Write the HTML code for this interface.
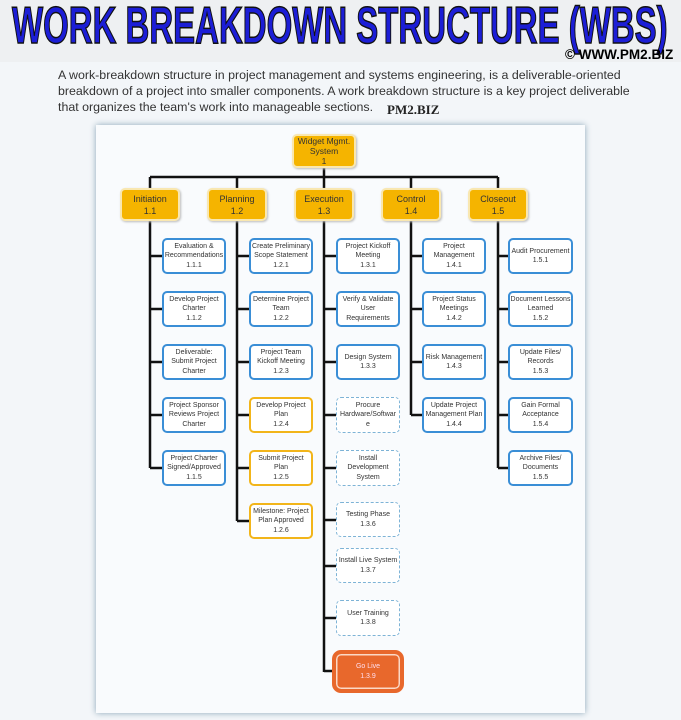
<!DOCTYPE html>
<html><head><meta charset="utf-8"><style>
*{margin:0;padding:0;box-sizing:border-box}
body{width:681px;height:720px;background:#f3f6f9;position:relative;overflow:hidden;font-family:"Liberation Sans",sans-serif}
.title{position:absolute;left:0;top:0;width:681px;height:62px;background:#eef0f2}
.title h1{position:absolute;left:12px;top:1px;white-space:nowrap;font:900 52px/50px "Liberation Sans",sans-serif;color:#1c1ed6;-webkit-text-stroke:1.5px #111;transform:scaleX(0.634);transform-origin:left top}
.copy{position:absolute;left:565px;top:47px;font:bold 13.5px "Liberation Sans",sans-serif;color:#000;white-space:nowrap}
.para{position:absolute;left:58px;top:67px;font-size:12.4px;line-height:16px;color:#333;width:580px}
.pm{position:absolute;left:387px;top:102px;font:bold 13px "Liberation Serif",serif;color:#222}
.panel{position:absolute;left:96px;top:125px;width:489px;height:588px;background:#f9fbfd;box-shadow:0 0 6px #8aa5b8}
.b{position:absolute;display:flex;align-items:center;justify-content:center;text-align:center;font-size:7px;line-height:9.5px;color:#333;border-radius:5px;background:#fff}
.g{background:#f5b400;border:2px solid #f9e7b0;font-size:9px;line-height:12px;color:#333;box-shadow:1px 1px 2px #bbb}
.bl{border:2.5px solid #3a8ed6}
.y{border:2.5px solid #f2b51a}
.d{border:1.5px dashed #7db3d6}
.o{background:#e8682c;border:4px solid #e8682c;box-shadow:inset 0 0 0 1.5px #fbd9c6;color:#fde;border-radius:9px}
</style></head><body>
<div class="title"><h1>WORK BREAKDOWN STRUCTURE (WBS)</h1></div>
<div class="copy">© WWW.PM2.BIZ</div>
<div class="para">A work-breakdown structure in project management and systems engineering, is a deliverable-oriented breakdown of a project into smaller components. A work breakdown structure is a key project deliverable that organizes the team's work into manageable sections.</div>
<div class="pm">PM2.BIZ</div>
<div class="panel"></div>
<svg style="position:absolute;left:0;top:0" width="681" height="720">
<g stroke="#111" stroke-width="2.5" fill="none">
<line x1="324" y1="166" x2="324" y2="188"/>
<line x1="150" y1="177" x2="498" y2="177"/>
<line x1="150" y1="177" x2="150" y2="188"/><line x1="237" y1="177" x2="237" y2="188"/><line x1="411" y1="177" x2="411" y2="188"/><line x1="498" y1="177" x2="498" y2="188"/>
<line x1="150" y1="221" x2="150" y2="468"/><line x1="237" y1="221" x2="237" y2="521"/><line x1="324" y1="221" x2="324" y2="672"/><line x1="411" y1="221" x2="411" y2="415"/><line x1="498" y1="221" x2="498" y2="468"/>
<path d="M150 256h12M150 309h12M150 362h12M150 415h12M150 468h12"/>
<path d="M237 256h12M237 309h12M237 362h12M237 415h12M237 468h12M237 521h12"/>
<path d="M324 256h12M324 309h12M324 362h12M324 415h12M324 468h12M324 520h12M324 566h12M324 618h12M324 671h10"/>
<path d="M411 256h11M411 309h11M411 362h11M411 415h11"/>
<path d="M498 256h10M498 309h10M498 362h10M498 415h10M498 468h10"/>
</g></svg>
<div class="b g" style="left:292px;top:134px;width:64px;height:34px;font-size:8.5px;line-height:10px">Widget Mgmt.<br>System<br>1</div>
<div class="b g" style="left:120px;top:188px;width:60px;height:33px">Initiation<br>1.1</div>
<div class="b g" style="left:207px;top:188px;width:60px;height:33px">Planning<br>1.2</div>
<div class="b g" style="left:294px;top:188px;width:60px;height:33px">Execution<br>1.3</div>
<div class="b g" style="left:381px;top:188px;width:60px;height:33px">Control<br>1.4</div>
<div class="b g" style="left:468px;top:188px;width:60px;height:33px">Closeout<br>1.5</div>

<div class="b bl" style="left:162px;top:238px;width:64px;height:36px">Evaluation &amp;<br>Recommendations<br>1.1.1</div>
<div class="b bl" style="left:162px;top:291px;width:64px;height:36px">Develop Project<br>Charter<br>1.1.2</div>
<div class="b bl" style="left:162px;top:344px;width:64px;height:36px">Deliverable:<br>Submit Project<br>Charter</div>
<div class="b bl" style="left:162px;top:397px;width:64px;height:36px">Project Sponsor<br>Reviews Project<br>Charter</div>
<div class="b bl" style="left:162px;top:450px;width:64px;height:36px">Project Charter<br>Signed/Approved<br>1.1.5</div>

<div class="b bl" style="left:249px;top:238px;width:64px;height:36px">Create Preliminary<br>Scope Statement<br>1.2.1</div>
<div class="b bl" style="left:249px;top:291px;width:64px;height:36px">Determine Project<br>Team<br>1.2.2</div>
<div class="b bl" style="left:249px;top:344px;width:64px;height:36px">Project Team<br>Kickoff Meeting<br>1.2.3</div>
<div class="b y" style="left:249px;top:397px;width:64px;height:36px">Develop Project<br>Plan<br>1.2.4</div>
<div class="b y" style="left:249px;top:450px;width:64px;height:36px">Submit Project<br>Plan<br>1.2.5</div>
<div class="b y" style="left:249px;top:503px;width:64px;height:36px">Milestone: Project<br>Plan Approved<br>1.2.6</div>

<div class="b bl" style="left:336px;top:238px;width:64px;height:36px">Project Kickoff<br>Meeting<br>1.3.1</div>
<div class="b bl" style="left:336px;top:291px;width:64px;height:36px">Verify &amp; Validate<br>User<br>Requirements</div>
<div class="b bl" style="left:336px;top:344px;width:64px;height:36px">Design System<br>1.3.3</div>
<div class="b d" style="left:336px;top:397px;width:64px;height:36px">Procure<br>Hardware/Softwar<br>e</div>
<div class="b d" style="left:336px;top:450px;width:64px;height:36px">Install<br>Development<br>System</div>
<div class="b d" style="left:336px;top:502px;width:64px;height:35px">Testing Phase<br>1.3.6</div>
<div class="b d" style="left:336px;top:548px;width:64px;height:35px">Install Live System<br>1.3.7</div>
<div class="b d" style="left:336px;top:600px;width:64px;height:36px">User Training<br>1.3.8</div>
<div class="b o" style="left:332px;top:650px;width:72px;height:43px">Go Live<br>1.3.9</div>

<div class="b bl" style="left:422px;top:238px;width:64px;height:36px">Project<br>Management<br>1.4.1</div>
<div class="b bl" style="left:422px;top:291px;width:64px;height:36px">Project Status<br>Meetings<br>1.4.2</div>
<div class="b bl" style="left:422px;top:344px;width:64px;height:36px">Risk Management<br>1.4.3</div>
<div class="b bl" style="left:422px;top:397px;width:64px;height:36px">Update Project<br>Management Plan<br>1.4.4</div>

<div class="b bl" style="left:508px;top:238px;width:65px;height:36px">Audit Procurement<br>1.5.1</div>
<div class="b bl" style="left:508px;top:291px;width:65px;height:36px">Document Lessons<br>Learned<br>1.5.2</div>
<div class="b bl" style="left:508px;top:344px;width:65px;height:36px">Update Files/<br>Records<br>1.5.3</div>
<div class="b bl" style="left:508px;top:397px;width:65px;height:36px">Gain Formal<br>Acceptance<br>1.5.4</div>
<div class="b bl" style="left:508px;top:450px;width:65px;height:36px">Archive Files/<br>Documents<br>1.5.5</div>
</body></html>
